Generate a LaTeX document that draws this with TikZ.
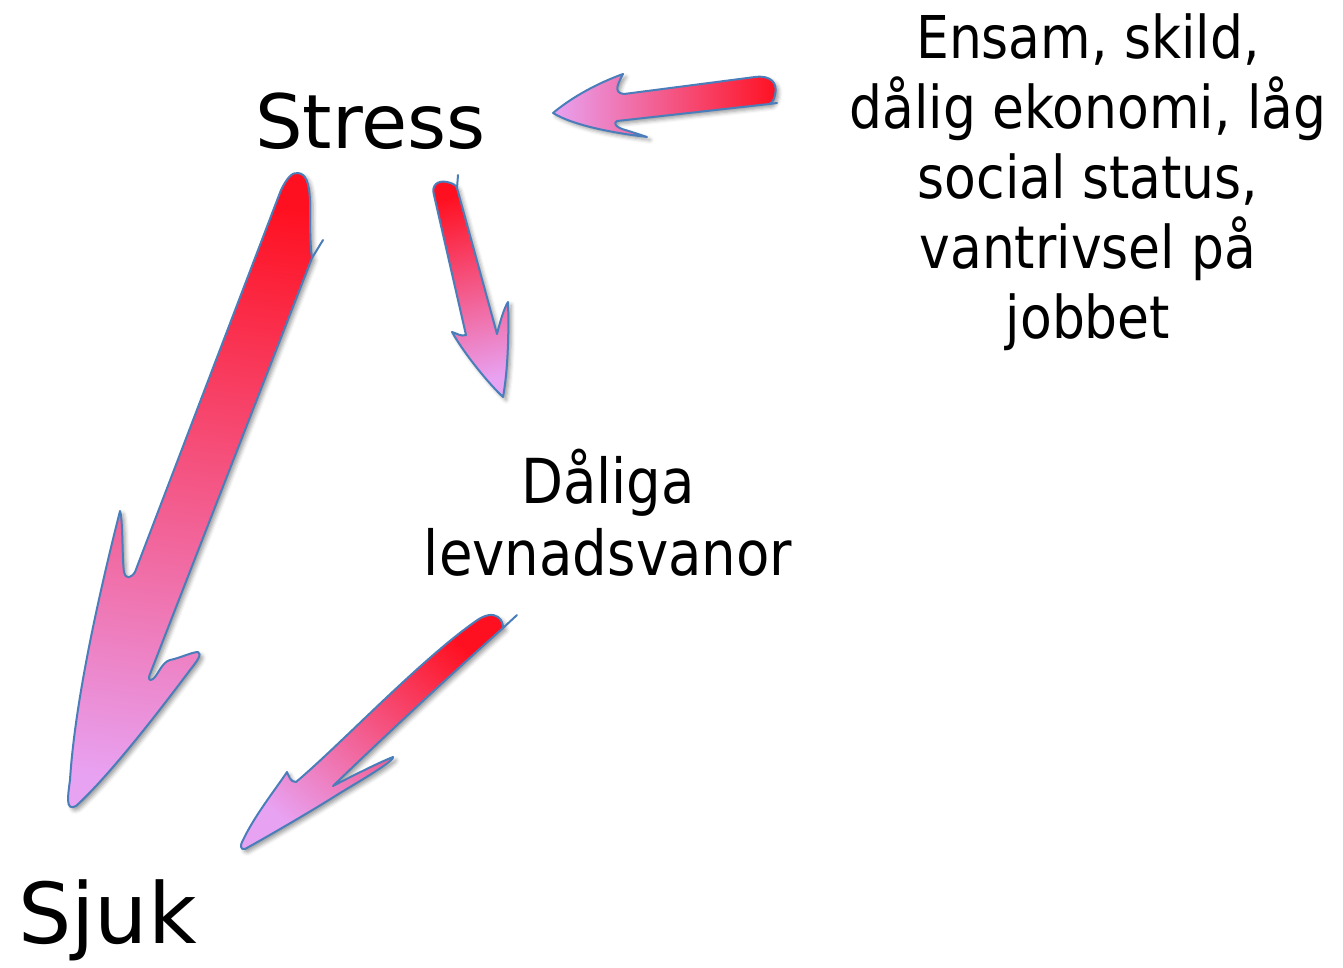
\documentclass[tikz,border=0pt]{standalone}
\usepackage{fontspec}
\setmainfont{DejaVu Sans}
\newfontfamily\narrowfont[FakeStretch=0.88]{DejaVu Sans}
\usetikzlibrary{shadows.blur}

\definecolor{tailred}{RGB}{255,16,32}
\definecolor{headpink}{RGB}{232,162,242}
\definecolor{edgeblue}{RGB}{74,126,187}

\tikzset{
    bigarrow/.style={draw=edgeblue, line width=2pt, line join=round,
        blur shadow={shadow xshift=3pt, shadow yshift=-3pt, shadow blur radius=4pt, shadow opacity=40}},
    edgehook/.style={draw=edgeblue, line width=2pt, line cap=round},
    bigtext/.style={inner sep=0pt, text=black}
}

\begin{document}
\begin{tikzpicture}[x=1pt, y=-1pt]
        \useasboundingbox (0,0) rectangle (1343,967);

        \node[bigtext, anchor=base west, font=\fontsize{75}{90}\selectfont] (stress) at (255,148) {Stress};
        \node[bigtext, anchor=base west, font=\fontsize{84}{100}\selectfont] (sjuk) at (18,943) {Sjuk};
        \node[bigtext, anchor=base, align=center, font=\narrowfont\fontsize{62}{72}\selectfont] (vanor) at (608,575) {Dåliga\\levnadsvanor};
        \node[bigtext, anchor=base, align=center, font=\narrowfont\fontsize{59}{70}\selectfont] (orsak) at (1088,338) {Ensam, skild,\\dålig ekonomi, låg\\social status,\\vantrivsel på\\jobbet};

        % orsak -> stress
        \path[bigarrow, left color=headpink, right color=tailred]
            (553,113) .. controls (572,97) and (598,83) .. (623,74)
            .. controls (619,82) and (612,93) .. (624,94)
            -- (755,77) .. controls (771,75) and (778,83) .. (775,95)
            .. controls (774,100) and (772,103) .. (769,104)
            -- (617,121) .. controls (613,123) and (616,127) .. (622,129)
            .. controls (632,132) and (641,135) .. (647,137)
            .. controls (622,134) and (576,127) .. (553,113) -- cycle;
        \draw[edgehook] (769,104) -- (777,103);

        % stress -> vanor
        \path[bigarrow, top color=tailred, bottom color=headpink, shading angle=15]
            (434,195) .. controls (431,185) and (438,180) .. (447,182)
            .. controls (452,183) and (456,185) .. (457,188)
            -- (497,334)
            .. controls (500,322) and (504,308) .. (508,302)
            .. controls (509,330) and (508,370) .. (503,397)
            .. controls (490,385) and (465,355) .. (452,332)
            .. controls (456,333) and (461,337) .. (466,335) -- cycle;
        \draw[edgehook] (457,188) -- (458,175);

        % stress -> sjuk
        \path[bigarrow, top color=tailred, bottom color=headpink, shading angle=-8]
            (281,190) .. controls (287,178) and (292,172) .. (298,173)
            .. controls (306,174) and (309,182) .. (310,200)
            .. controls (310,225) and (310,245) .. (312,258)
            -- (150,674)
            .. controls (148,678) and (149,682) .. (153,679)
            .. controls (158,675) and (162,662) .. (170,660)
            .. controls (180,658) and (192,652) .. (198,652)
            .. controls (202,654) and (198,660) .. (190,670)
            .. controls (160,710) and (110,775) .. (76,806)
            .. controls (65,812) and (68,795) .. (70,780)
            .. controls (75,700) and (100,590) .. (120,511)
            .. controls (123,518) and (122,560) .. (124,572)
            .. controls (126,580) and (131,578) .. (135,572) -- cycle;
        \draw[edgehook] (312,258) -- (323,240);

        % vanor -> sjuk
        \path[bigarrow, top color=tailred, bottom color=headpink, shading angle=-40]
            (476,621) .. controls (484,615) and (493,613) .. (498,617)
            .. controls (502,620) and (503,624) .. (503,628)
            .. controls (450,675) and (370,750) .. (333,786)
            .. controls (350,777) and (380,762) .. (393,757)
            .. controls (395,760) and (370,775) .. (340,793)
            .. controls (310,812) and (270,835) .. (245,849)
            .. controls (240,850) and (240,845) .. (243,840)
            .. controls (255,815) and (275,790) .. (287,772)
            .. controls (289,776) and (290,782) .. (296,782)
            .. controls (340,745) and (420,660) .. (476,621) -- cycle;
        \draw[edgehook] (503,628) -- (517,615);
\end{tikzpicture}
\end{document}
